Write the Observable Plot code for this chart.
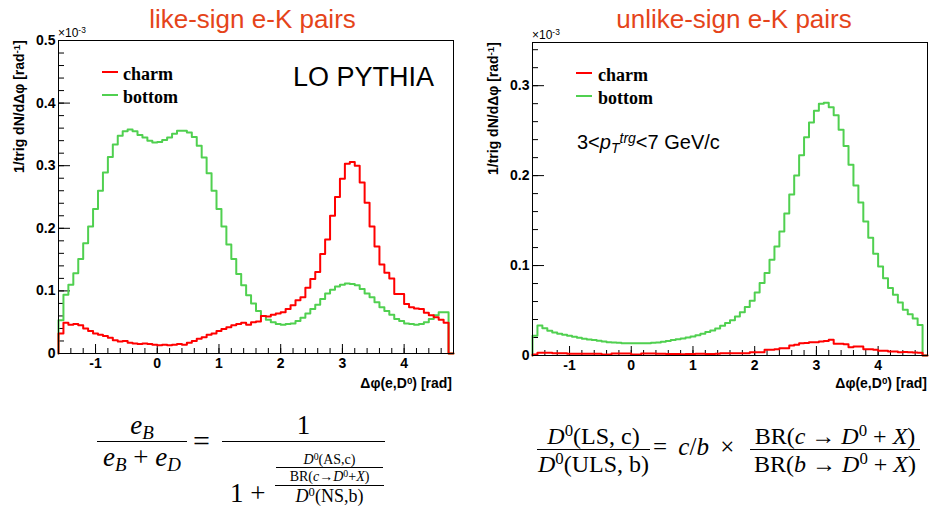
<!DOCTYPE html>
<html><head><meta charset="utf-8">
<script src="https://cdn.jsdelivr.net/npm/d3@7"></script>
<script src="https://cdn.jsdelivr.net/npm/@observablehq/plot@0.6"></script>
<style>
body{margin:0;background:#fff;}
#page{position:relative;width:929px;height:512px;overflow:hidden;background:#fff;font-family:"Liberation Sans",Arial,sans-serif;color:#000;}
.abs{position:absolute;white-space:nowrap;}
.title{font-size:26px;line-height:26px;color:#e5441a;text-align:center;}
.ylab{font-size:14px;font-weight:bold;line-height:16px;width:300px;text-align:right;transform-origin:0 0;transform:rotate(-90deg);}
.xlab{font-size:14px;font-weight:bold;line-height:16px;}
.exp{font-size:12px;line-height:12px;}
.leg{font-family:"Liberation Serif","Times New Roman",serif;font-weight:bold;font-size:18px;line-height:20px;}
.sw{position:absolute;width:16px;height:0;border-top:2px solid;}
.math{font-family:"Liberation Serif","Times New Roman",serif;line-height:1.1;}
.frac{position:absolute;height:0;border-top:1.3px solid #000;}
.num,.den{position:absolute;left:-20px;right:-20px;text-align:center;white-space:nowrap;}
.num{bottom:1px;}
.den{top:1px;}
sup,sub{font-size:0.7em;line-height:0;}
sup{vertical-align:0.45em;}
sub{vertical-align:-0.25em;}
</style>
</head><body>
<div id="page">
  <div class="abs title" style="left:0;width:505px;top:6px;">like-sign e-K pairs</div>
  <div class="abs title" style="left:540px;width:388px;top:6px;">unlike-sign e-K pairs</div>
  <div id="left" class="abs" style="left:0;top:0;"></div>
  <div id="right" class="abs" style="left:465px;top:0;"></div>

  <div class="abs exp" style="left:58px;top:27px;">×10<sup>-3</sup></div>
  <div class="abs exp" style="left:532px;top:29px;">×10<sup>-3</sup></div>

  <div class="abs ylab" style="left:11px;top:340px;">1/trig dN/dΔφ [rad<sup>-1</sup>]</div>
  <div class="abs ylab" style="left:485px;top:342px;">1/trig dN/dΔφ [rad<sup>-1</sup>]</div>

  <div class="abs xlab" style="right:477px;top:375px;">Δφ(e,D<sup>0</sup>) [rad]</div>
  <div class="abs xlab" style="right:2px;top:375px;">Δφ(e,D<sup>0</sup>) [rad]</div>

  <div class="sw" style="left:102px;top:71px;border-color:#ff0000;"></div>
  <div class="abs leg" style="left:123px;top:64px;">charm</div>
  <div class="sw" style="left:102px;top:94px;border-color:#50d050;"></div>
  <div class="abs leg" style="left:123px;top:87px;">bottom</div>

  <div class="sw" style="left:576px;top:72px;border-color:#ff0000;"></div>
  <div class="abs leg" style="left:598px;top:65px;">charm</div>
  <div class="sw" style="left:576px;top:95px;border-color:#50d050;"></div>
  <div class="abs leg" style="left:598px;top:88px;">bottom</div>

  <div class="abs" style="left:293px;top:64px;font-size:27px;line-height:27px;">LO PYTHIA</div>
  <div class="abs" style="left:577px;top:132px;font-size:20px;line-height:20px;">3&lt;<i>p</i><sub><i>T</i></sub><sup><i>trg</i></sup>&lt;7 GeV/c</div>

  <!-- left formula -->
  <div class="math" style="font-size:27px;">
    <div class="frac" style="left:97px;top:441px;width:90px;">
      <div class="num"><i>e</i><sub><i>B</i></sub></div>
      <div class="den"><i>e</i><sub><i>B</i></sub> + <i>e</i><sub><i>D</i></sub></div>
    </div>
    <div class="abs" style="left:193px;top:424px;font-size:30px;">=</div>
    <div class="frac" style="left:222px;top:441px;width:163px;">
      <div class="num">1</div>
    </div>
    <div class="abs" style="left:230px;top:479px;">1 +</div>
  </div>
  <div class="math" style="font-size:14px;">
    <div class="frac" style="left:276px;top:467px;width:107px;">
      <div class="num"><i>D</i><sup>0</sup>(AS,c)</div>
      <div class="den">BR(<i>c</i>→<i>D</i><sup>0</sup>+<i>X</i>)</div>
    </div>
  </div>
  <div class="math" style="font-size:18px;">
    <div class="frac" style="left:275px;top:485px;width:109px;">
      <div class="den"><i>D</i><sup>0</sup>(NS,b)</div>
    </div>
  </div>

  <!-- right formula -->
  <div class="math" style="font-size:24px;">
    <div class="frac" style="left:537px;top:449px;width:113px;">
      <div class="num"><i>D</i><sup>0</sup>(LS, c)</div>
      <div class="den"><i>D</i><sup>0</sup>(ULS, b)</div>
    </div>
    <div class="abs" style="left:653px;top:433px;font-size:25px;word-spacing:5px;">= <i>c</i>/<i>b</i> ×</div>
    <div class="frac" style="left:750px;top:449px;width:170px;">
      <div class="num">BR(<i>c</i> → <i>D</i><sup>0</sup> + <i>X</i>)</div>
      <div class="den">BR(<i>b</i> → <i>D</i><sup>0</sup> + <i>X</i>)</div>
    </div>
  </div>
</div>
<script>
// histogram definition: 80 bins of 0.08 rad from -1.6 to 4.8
const binLow = -1.6;
const binWidth = 0.08;

const likeCharm = [0.032,0.049,0.046,0.047,0.045,0.040,0.036,0.032,0.030,0.028,
  0.025,0.021,0.019,0.020,0.017,0.016,0.015,0.016,0.015,0.014,
  0.013,0.014,0.013,0.014,0.015,0.014,0.017,0.020,0.0235,0.026,
  0.030,0.032,0.036,0.039,0.042,0.045,0.047,0.049,0.046,0.050,
  0.051,0.060,0.059,0.062,0.064,0.066,0.071,0.077,0.085,0.090,
  0.105,0.119,0.130,0.159,0.182,0.220,0.250,0.279,0.303,0.306,
  0.300,0.273,0.241,0.203,0.171,0.142,0.129,0.120,0.095,0.095,
  0.079,0.074,0.072,0.071,0.065,0.061,0.058,0.054,0.049,0];

const likeBottom = [0.053,0.094,0.110,0.128,0.151,0.176,0.203,0.231,0.260,0.289,
  0.314,0.334,0.348,0.355,0.358,0.355,0.349,0.345,0.340,0.337,
  0.338,0.341,0.345,0.351,0.356,0.356,0.353,0.346,0.332,0.313,
  0.288,0.260,0.231,0.203,0.174,0.151,0.127,0.109,0.093,0.080,
  0.068,0.060,0.054,0.050,0.047,0.046,0.047,0.048,0.052,0.057,
  0.064,0.071,0.078,0.087,0.096,0.102,0.107,0.110,0.112,0.111,
  0.109,0.103,0.096,0.090,0.082,0.074,0.068,0.062,0.055,0.052,
  0.048,0.047,0.046,0.047,0.050,0.055,0.061,0.066,0.066,0];

const unlikeCharm = [0.001,0.003,0.003,0.003,0.0026,0.0026,0.0026,0.002,0.002,0.002,
  0.002,0.002,0.002,0.002,0.001,0.001,0.0022,0.0022,0.0022,0.0022,
  0.001,0.001,0.0022,0.0022,0.0022,0.002,0.002,0.0018,0.0018,0.0018,
  0.0015,0.0018,0.0018,0.002,0.002,0.0018,0.0018,0.002,0.0026,0.0026,
  0.0026,0.0026,0.0026,0.0026,0.0037,0.0037,0.0037,0.0063,0.0063,0.007,
  0.008,0.008,0.011,0.012,0.0137,0.014,0.0148,0.0148,0.0156,0.016,
  0.0174,0.013,0.013,0.0126,0.0093,0.010,0.010,0.007,0.007,0.0063,
  0.0052,0.0052,0.0045,0.0045,0.0037,0.004,0.0037,0.0033,0.003,0];

const unlikeBottom = [0.022,0.0334,0.0304,0.0275,0.0256,0.0241,0.023,0.0219,0.0208,0.0197,
  0.0186,0.0178,0.0171,0.0163,0.0156,0.0148,0.0145,0.0141,0.0137,0.0137,
  0.0137,0.0137,0.0137,0.0137,0.0141,0.0145,0.0152,0.016,0.0171,0.0182,
  0.0189,0.020,0.0212,0.0226,0.0241,0.026,0.0278,0.030,0.033,0.036,
  0.0393,0.0434,0.0482,0.0538,0.0609,0.070,0.0805,0.0917,0.1065,0.1213,
  0.138,0.158,0.179,0.200,0.2226,0.2427,0.259,0.272,0.2798,0.281,
  0.276,0.267,0.251,0.233,0.212,0.189,0.170,0.149,0.131,0.113,
  0.099,0.086,0.075,0.0675,0.059,0.051,0.046,0.041,0.034,0];

const xTicks = [-1, 0, 1, 2, 3, 4];
const xTickLabels = ["-1", "0", "1", "2", "3", "4"];
const yTicksLike = [0, 0.1, 0.2, 0.3, 0.4, 0.5];
const yTickLabelsLike = ["0", "0.1", "0.2", "0.3", "0.4", "0.5"];
const yTicksUnlike = [0, 0.1, 0.2, 0.3];
const yTickLabelsUnlike = ["0", "0.1", "0.2", "0.3"];

const charmColor = "#ff0000";
const bottomColor = "#50d050";

function steps(vals) {
  const pts = [{x: binLow, y: 0}];
  vals.forEach((v, i) => pts.push({x: binLow + i * binWidth, y: v}));
  pts.push({x: binLow + vals.length * binWidth, y: vals[vals.length - 1]});
  return pts;
}

function panel({charm, bottom, yDomain, yTicks, yLabels, width, height, mt, mr, mb, ml}) {
  const plotW = width - ml - mr;
  const plotH = height - mt - mb;
  const xMinor = d3.range(-7, 24).map(k => k * 0.2);
  const yMinor = d3.range(0, Math.floor(yDomain[1] / 0.02 + 1e-6) + 1).map(k => k * 0.02);
  return Plot.plot({
    width, height,
    marginTop: mt, marginRight: mr, marginBottom: mb, marginLeft: ml,
    x: {domain: [binLow, binLow + 80 * binWidth]},
    y: {domain: yDomain},
    style: {fontFamily: "Liberation Sans, Arial, sans-serif", background: "transparent", overflow: "visible"},
    marks: [
      Plot.tickX(xMinor, {x: d => d, insetTop: plotH - 5, stroke: "#000"}),
      Plot.tickX(xTicks, {x: d => d, insetTop: plotH - 9, stroke: "#000"}),
      Plot.tickY(yMinor, {y: d => d, insetRight: plotW - 6, stroke: "#000"}),
      Plot.tickY(yTicks, {y: d => d, insetRight: plotW - 12, stroke: "#000"}),
      Plot.axisX({ticks: xTicks, tickSize: 0, tickPadding: 5, tickFormat: d => xTickLabels[xTicks.indexOf(d)], fontSize: 14, fontWeight: "bold", label: null}),
      Plot.axisY({ticks: yTicks, tickSize: 0, tickPadding: 3, tickFormat: d => yLabels[yTicks.indexOf(d)], fontSize: 14, fontWeight: "bold", label: null}),
      Plot.line(steps(bottom), {x: "x", y: "y", curve: "step-after", stroke: bottomColor, strokeWidth: 2}),
      Plot.line(steps(charm), {x: "x", y: "y", curve: "step-after", stroke: charmColor, strokeWidth: 2}),
      Plot.frame({stroke: "#000", strokeWidth: 1})
    ]
  });
}

document.getElementById("left").append(panel({
  charm: likeCharm, bottom: likeBottom, yDomain: [0, 0.5], yTicks: yTicksLike, yLabels: yTickLabelsLike,
  width: 465, height: 400, mt: 40, mr: 12, mb: 47, ml: 58
}));
document.getElementById("right").append(panel({
  charm: unlikeCharm, bottom: unlikeBottom, yDomain: [0, 0.348], yTicks: yTicksUnlike, yLabels: yTickLabelsUnlike,
  width: 464, height: 400, mt: 42, mr: 2, mb: 45, ml: 67
}));
</script>
</body></html>
